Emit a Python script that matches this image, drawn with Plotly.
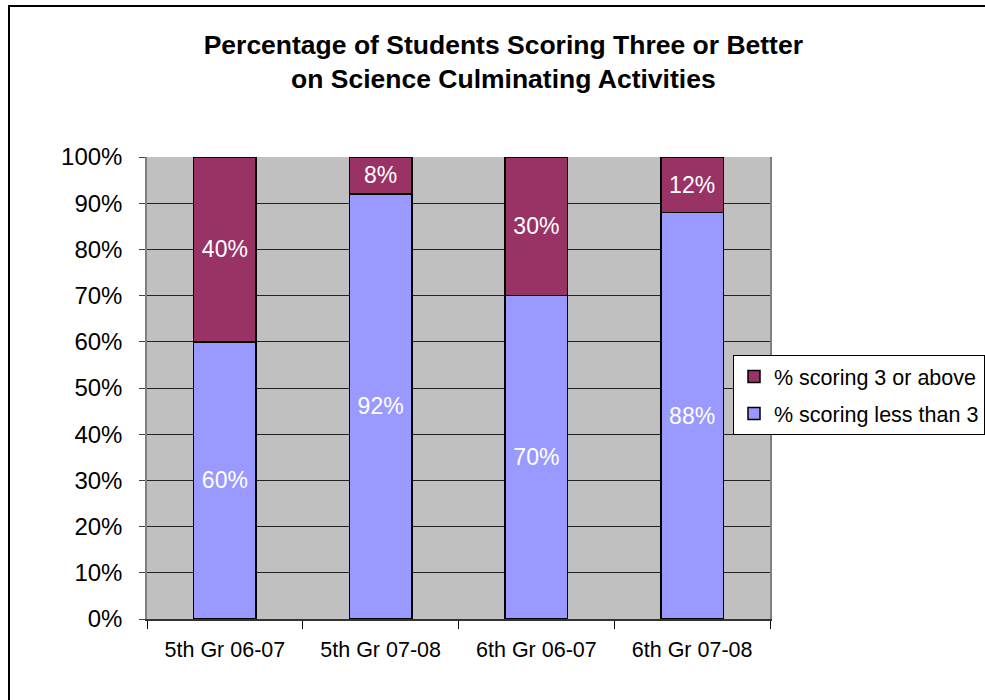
import plotly.graph_objects as go

categories = ["5th Gr 06-07", "5th Gr 07-08", "6th Gr 06-07", "6th Gr 07-08"]
less_than_3 = [60, 92, 70, 88]
three_or_above = [40, 8, 30, 12]
y_ticks = [0, 10, 20, 30, 40, 50, 60, 70, 80, 90, 100]

PL, PR, PT, PB = 147, 770, 157, 619
W, H = 985, 700

def px_x(p):
    return (p - PL) / (PR - PL)

def px_y(p):
    return (PB - p) / (PB - PT)

fig = go.Figure()
fig.add_trace(go.Bar(
    x=categories, y=less_than_3, name="% scoring less than 3",
    marker=dict(color="#9999FF", line=dict(color="black", width=1.5)),
    text=[f"{v}%" for v in less_than_3], textposition="inside",
    insidetextanchor="middle", constraintext="none",
    textfont=dict(color="white", size=23, family="Arial"),
    legendgroup="b", legendrank=2, width=0.4,
))
fig.add_trace(go.Bar(
    x=categories, y=three_or_above, name="% scoring 3 or above",
    marker=dict(color="#993366", line=dict(color="black", width=1.5)),
    text=[f"{v}%" for v in three_or_above], textposition="inside",
    insidetextanchor="middle", constraintext="none",
    textfont=dict(color="white", size=23, family="Arial"),
    legendgroup="a", legendrank=1, width=0.4,
))

fig.update_layout(
    width=W, height=H,
    barmode="stack",
    paper_bgcolor="white",
    plot_bgcolor="#C0C0C0",
    margin=dict(l=PL, r=W - PR, t=PT, b=H - PB, pad=0, autoexpand=False),
    font=dict(family="Arial", color="black"),
    title=dict(
        text="<b>Percentage of Students Scoring Three or Better<br>on Science Culminating Activities</b>",
        x=0.511, xref="container", xanchor="center",
        y=1 - 54 / H, yref="container", yanchor="middle",
        font=dict(size=26.5, family="Arial", color="black"),
    ),
    legend=dict(
        x=px_x(733), y=px_y(355), xanchor="left", yanchor="top",
        bgcolor="white", bordercolor="black", borderwidth=1,
        font=dict(size=21.5, family="Arial", color="black"),
        traceorder="grouped", tracegroupgap=6,
        itemwidth=30,
    ),
    showlegend=True,
)

fig.update_yaxes(
    range=[0, 100], tickvals=y_ticks, ticktext=[f"{v}%" for v in y_ticks],
    showgrid=True, gridcolor="#222222", gridwidth=1,
    ticks="outside", ticklen=6, tickcolor="#444444",
    showline=True, linecolor="#808080", linewidth=1.5, mirror=True,
    tickfont=dict(size=24, family="Arial", color="black"),
    ticklabelstandoff=12, zeroline=False, fixedrange=True,
)
fig.update_xaxes(
    showline=True, linecolor="#333333", linewidth=1.5,
    ticks="outside", tickson="boundaries", ticklen=8, tickcolor="black",
    tickfont=dict(size=21.5, family="Arial", color="black"),
    ticklabelstandoff=10, fixedrange=True,
)

# outer chart border
fig.add_shape(type="rect", xref="paper", yref="paper",
              x0=px_x(9), x1=px_x(995), y0=px_y(710), y1=px_y(6),
              line=dict(color="black", width=2), fillcolor="rgba(0,0,0,0)",
              layer="above")

fig.write_html("out.html")
